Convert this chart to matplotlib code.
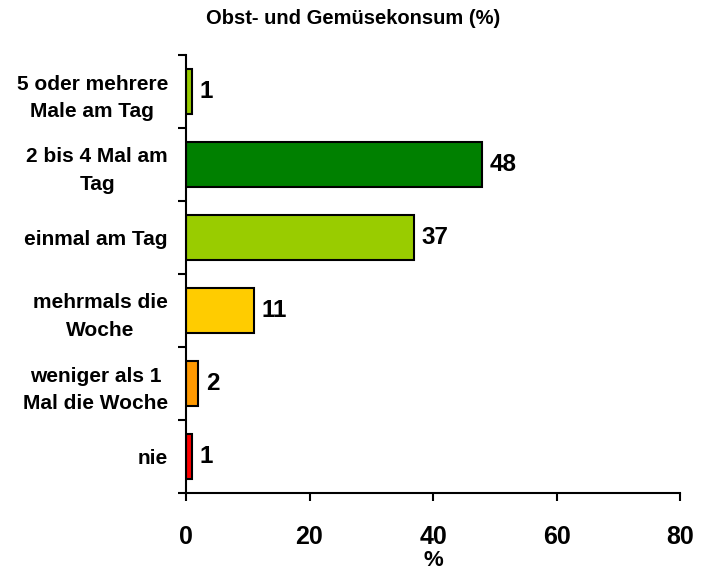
import matplotlib.pyplot as plt
import numpy as np

plt.rcParams['font.family'] = ['Liberation Sans', 'DejaVu Sans']
plt.rcParams['font.weight'] = 'bold'

kategorien = ['5 oder mehrere\nMale am Tag', '2 bis 4 Mal am\nTag', 'einmal am Tag',
              'mehrmals die\nWoche', 'weniger als 1\nMal die Woche', 'nie']
werte = [1, 48, 37, 11, 2, 1]
farben = ['#99CC00', '#008000', '#99CC00', '#FFCC00', '#FF9900', '#FF0000']
x_ticks = [0, 20, 40, 60, 80]

fig = plt.figure(figsize=(7.06, 5.75), dpi=100)
ax = fig.add_axes([186 / 706, 1 - 493 / 575, (680 - 186) / 706, (493 - 55) / 575])

pos = np.arange(len(werte))
ax.barh(pos, werte, height=0.63, color=farben, edgecolor='black', linewidth=1.5)
ax.set_ylim(len(werte) - 0.5, -0.5)
ax.set_xlim(0, 80)

for p, w in zip(pos, werte):
    ax.text(w + 1.2, p, str(w), va='center', ha='left', fontsize=17.5, fontweight='bold')

# Achsen im Excel-Stil
for s in ['top', 'right']:
    ax.spines[s].set_visible(False)
ax.spines['left'].set_linewidth(1.5)
ax.spines['bottom'].set_linewidth(1.5)

ax.set_yticks(pos)
ax.set_yticklabels(kategorien, fontsize=15, fontweight='bold', linespacing=1.55,
                   ha='right', multialignment='center')
ax.tick_params(axis='y', which='major', length=0, pad=13)
ax.set_yticks(np.arange(-0.5, len(werte) + 0.5, 1), minor=True)
ax.tick_params(axis='y', which='minor', length=6, width=1.5, direction='out')

ax.set_xticks(x_ticks)
ax.set_xticklabels([str(t) for t in x_ticks], fontsize=18, fontweight='bold')
ax.tick_params(axis='x', length=6, width=1.5, direction='out', pad=17)
ax.set_xlabel('%', fontsize=16, fontweight='bold', labelpad=1)

fig.text(0.5, 1 - 18 / 575, 'Obst- und Gemüsekonsum (%)', ha='center', va='center',
         fontsize=14.5, fontweight='bold')

fig.savefig('out.png', dpi=100)
